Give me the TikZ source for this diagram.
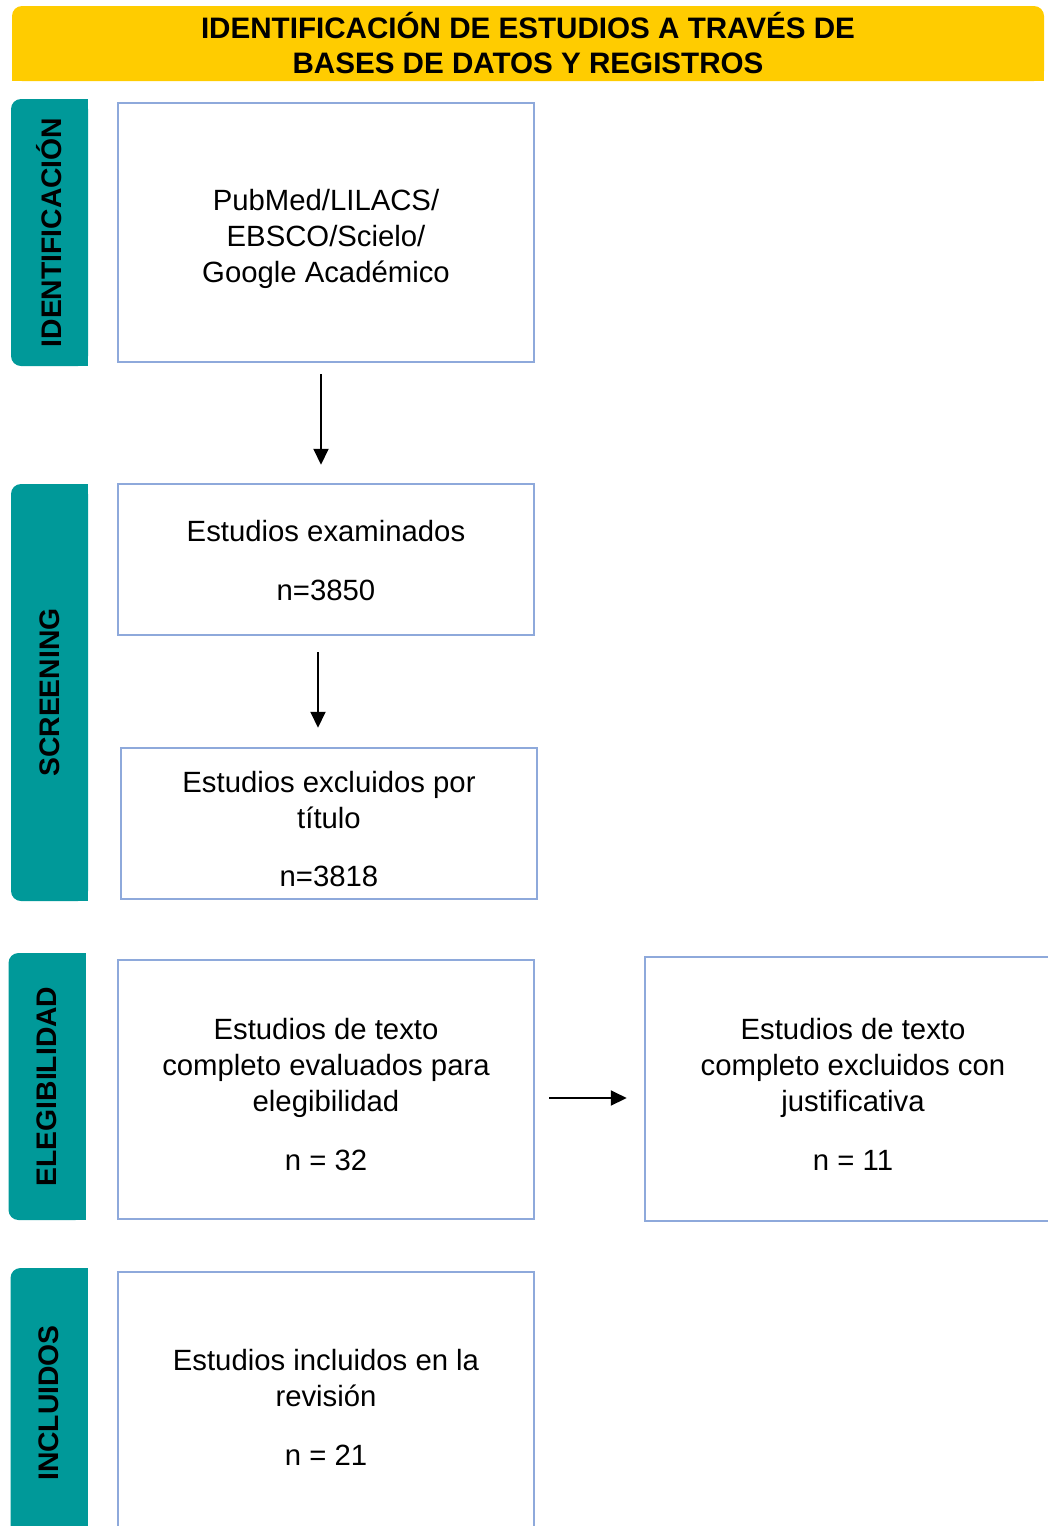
\documentclass[tikz,border=0pt]{standalone}
\usepackage{fontspec}
\setmainfont{Liberation Sans}
\usetikzlibrary{arrows.meta}
\definecolor{hdrcol}{RGB}{255,204,0}
\definecolor{sidecol}{RGB}{0,153,153}
\definecolor{bordcol}{RGB}{142,169,219}
\begin{document}
\begin{tikzpicture}[x=1pt,y=-1pt,
  box/.style={draw=bordcol, line width=2.5pt, fill=white, inner sep=0pt},
  txt/.style={align=center, inner sep=0pt, font=\fontsize{29.3}{36}\selectfont},
  sidebar/.style={fill=sidecol, rounded corners=10pt, rotate=90, inner sep=0pt, minimum height=77pt, font=\bfseries\fontsize{28.3}{34}\selectfont},
  arr/.style={line width=2pt, -{Triangle[width=15pt,length=16pt]}}]
\path[use as bounding box] (0,0) rectangle (1048,1526);
\clip (0,0) rectangle (1048,1526);

% header
\fill[hdrcol] (12,44) rectangle (1044,81);
\node[fill=hdrcol, rounded corners=10pt, minimum width=1032pt, minimum height=75pt, inner sep=0pt, align=center,
      font=\bfseries\fontsize{29.6}{35}\selectfont] (hdr) at (528,43.5)
  {IDENTIFICACIÓN DE ESTUDIOS A TRAVÉS DE\\BASES DE DATOS Y REGISTROS};

% side bars
\fill[sidecol] (50,99) rectangle (88,366);
\node[sidebar, minimum width=267pt] (s1) at (49.5,232.5) {IDENTIFICACIÓN};
\fill[sidecol] (50,484) rectangle (88,901);
\node[sidebar, minimum width=417pt] (s2) at (49.5,692.5) {SCREENING};
\fill[sidecol] (47,953) rectangle (86,1220);
\node[sidebar, minimum width=267pt] (s3) at (47,1086.5) {ELEGIBILIDAD};
\fill[sidecol] (49,1268) rectangle (88,1538);
\node[sidebar, minimum width=270pt] (s4) at (49,1403) {INCLUIDOS};

% boxes
\node[box, minimum width=416pt, minimum height=259pt] (b1) at (326,232.5) {};
\node[txt] (t1) at ([yshift=-6pt]b1.center) {PubMed/LILACS/\\EBSCO/Scielo/\\Google Académico};
\node[box, minimum width=416pt, minimum height=151pt] (b2) at (326,559.5) {};
\node[txt] (t2) at ([yshift=-1pt]b2.center) {Estudios examinados\\[23pt]n=3850};
\node[box, minimum width=416pt, minimum height=151pt] (b3) at (329,823.5) {};
\node[txt] (t3) at ([yshift=-6pt]b3.center) {Estudios excluidos por\\título\\[22pt]n=3818};
\node[box, minimum width=416pt, minimum height=259pt] (b4) at (326,1089.5) {};
\node[txt] (t4) at ([yshift=-5pt]b4.center) {Estudios de texto\\completo evaluados para\\elegibilidad\\[23pt]n = 32};
\node[box, minimum width=416pt, minimum height=264pt] (b5) at (853,1089) {};
\node[txt] (t5) at ([yshift=-5pt]b5.center) {Estudios de texto\\completo excluidos con\\justificativa\\[23pt]n = 11};
\node[box, minimum width=416pt, minimum height=270pt] (b6) at (326,1407) {};
\node[txt] (t6) at (b6.center) {Estudios incluidos en la\\revisión\\[23pt]n = 21};

% arrows
\draw[arr] ([xshift=-5pt,yshift=-11pt]b1.south) -- ([xshift=-5pt,yshift=18pt]b2.north);
\draw[arr] ([xshift=-8pt,yshift=-16pt]b2.south) -- ([xshift=-11pt,yshift=19pt]b3.north);
\draw[arr] ([xshift=14pt,yshift=-8.5pt]b4.east) -- ([xshift=-17pt,yshift=-9pt]b5.west);
\end{tikzpicture}
\end{document}
